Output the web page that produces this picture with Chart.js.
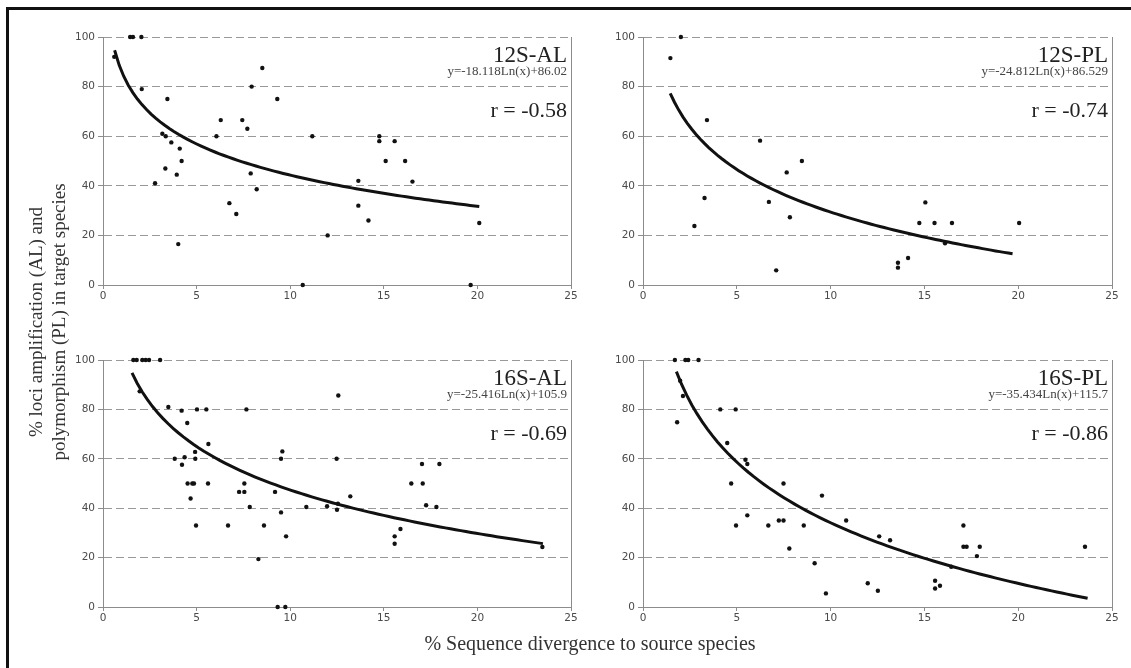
<!DOCTYPE html>
<html>
<head>
<meta charset="utf-8">
<script src="https://cdn.jsdelivr.net/npm/chart.js@4.4.1/dist/chart.umd.min.js"></script>
<style>
  body { margin: 0; background: #fff; }
  #page { position: relative; width: 1131px; height: 668px; overflow: hidden; background: #fff; }
  #frame { position: absolute; left: 6px; top: 7px; width: 1200px; height: 700px;
           border-left: 3px solid #111; border-top: 3px solid #111; }
  canvas { position: absolute; }
  .ytitle { position: absolute; left: 47px; top: 322px; width: 420px; margin-left: -210px;
            transform: translateY(-50%) rotate(-90deg); text-align: center;
            font: 19px "Liberation Serif", serif; line-height: 23px; color: #333; }
  .xtitle { position: absolute; left: 590px; top: 632px; transform: translateX(-50%);
            white-space: nowrap; font: 20px "Liberation Serif", serif; color: #333; }
</style>
</head>
<body>
<div id="page">
  <div id="frame"></div>
  <canvas id="c1"></canvas>
  <canvas id="c2"></canvas>
  <canvas id="c3"></canvas>
  <canvas id="c4"></canvas>
  <div class="ytitle">% loci amplification (AL) and<br>polymorphism (PL) in target species</div>
  <div class="xtitle">% Sequence divergence to source species</div>
</div>
<script>
// data

// 12S-AL
const al12_x = [0.6, 1.45, 1.6, 2.05, 2.07, 2.78, 3.17, 3.35, 3.33, 3.44,
    3.65, 3.94, 4.1, 4.2, 4.02, 6.06, 6.29, 6.75, 7.12, 7.44,
    7.71, 7.89, 7.94, 8.21, 8.51, 9.31, 10.67, 11.18, 12.0, 13.64,
    13.64, 14.18, 14.76, 14.76, 15.1, 15.58, 16.14, 16.53, 19.64, 20.1]
const al12_y = [92, 100, 100, 100, 79, 41, 61, 60, 47, 75,
    57.5, 44.5, 55, 50, 16.5, 60, 66.5, 33, 28.6, 66.5,
    63, 45, 80, 38.6, 87.5, 75, 0, 60, 20, 42,
    32, 26, 60, 58, 50, 58, 50, 41.7, 0, 25]

// 12S-PL
const pl12_x = [1.46, 2.02, 2.74, 3.28, 3.41, 6.24, 6.71, 7.1, 7.66, 7.83,
    8.47, 13.59, 13.59, 14.13, 14.73, 15.05, 15.54, 16.1, 16.47, 20.05]
const pl12_y = [91.5, 100, 23.8, 35.1, 66.5, 58.2, 33.5, 5.9, 45.4, 27.3,
    50, 9, 7, 10.9, 25, 33.3, 25, 16.8, 25, 25]

// 16S-AL
const al16_x = [1.62, 1.8, 2.1, 2.28, 2.46, 3.05, 1.96, 3.49, 4.2, 3.83,
    4.22, 4.36, 4.5, 4.52, 4.68, 4.77, 4.86, 4.92, 4.93, 5.02,
    4.97, 5.52, 5.61, 5.63, 6.68, 7.27, 7.55, 7.55, 7.66, 7.84,
    8.3, 8.6, 9.19, 9.33, 9.51, 9.58, 9.51, 9.74, 9.78, 10.86,
    11.97, 12.48, 12.57, 12.5, 12.55, 13.21, 15.58, 15.58, 15.89, 16.47,
    17.04, 17.08, 17.26, 17.81, 17.97, 23.47]
const al16_y = [100, 100, 100, 100, 100, 100, 87.3, 81, 79.5, 60,
    57.6, 60.6, 74.5, 50, 43.9, 50, 50, 62.8, 60, 80,
    33, 80, 50, 66, 33, 46.6, 46.6, 50, 80, 40.5,
    19.4, 33, 46.6, 0, 60, 63, 38.3, 0, 28.6, 40.5,
    40.8, 60, 85.6, 39.4, 41.8, 44.8, 28.6, 25.6, 31.6, 50,
    57.9, 50, 41.2, 40.5, 57.9, 24.3]

// 16S-PL
const pl16_x = [1.7, 2.26, 2.41, 2.96, 1.82, 1.98, 2.13, 4.12, 4.94, 4.49,
    4.7, 4.96, 5.46, 5.56, 5.56, 6.68, 7.24, 7.49, 7.49, 7.8,
    8.57, 9.15, 9.54, 9.75, 10.83, 11.98, 12.52, 12.59, 13.17, 15.57,
    15.57, 15.83, 16.43, 17.08, 17.08, 17.25, 17.8, 17.95, 23.56]
const pl16_y = [100, 100, 100, 100, 74.8, 91.6, 85.4, 80, 80, 66.4,
    50, 33, 59.6, 57.9, 37.1, 33, 35, 35, 50, 23.7,
    33, 17.7, 45.1, 5.5, 35, 9.6, 6.6, 28.6, 27, 10.6,
    7.5, 8.6, 16.3, 33, 24.4, 24.4, 20.6, 24.4, 24.4]

// panel texts and the printed log trendlines
const panel_names = ['12S-AL', '12S-PL', '16S-AL', '16S-PL']
const equations = ['y=-18.118Ln(x)+86.02', 'y=-24.812Ln(x)+86.529', 'y=-25.416Ln(x)+105.9', 'y=-35.434Ln(x)+115.7']
const r_values = ['r = -0.58', 'r = -0.74', 'r = -0.69', 'r = -0.86']
const trend_a = [-18.118, -24.812, -25.416, -35.434]
const trend_b = [86.02, 86.529, 105.9, 115.7]
const trend_from = [0.62, 1.45, 1.55, 1.78]
const trend_to = [20.1, 19.7, 23.5, 23.7]

const x_ticks = [0, 5, 10, 15, 20, 25]
const y_ticks = [0, 20, 40, 60, 80, 100]

const all_x = [al12_x, pl12_x, al16_x, pl16_x]
const all_y = [al12_y, pl12_y, al16_y, pl16_y]

// plot areas [left, top, right, bottom]
const areas = [[103, 37, 571, 285], [643, 37, 1112, 285], [103, 360, 571, 607], [643, 360, 1112, 607]]
const YW = 45, XH = 30, PAD = 10

function trendPoints(i) {
    const pts = []
    const n = 80
    for (let k = 0; k <= n; k++) {
        const x = trend_from[i] + (trend_to[i] - trend_from[i]) * k / n
        pts.push({x: x, y: trend_a[i] * Math.log(x) + trend_b[i]})
    }
    return pts
}

const panelText = {
    id: 'panelText',
    afterDraw(chart) {
        const i = chart.options.plugins.panelText.index
        const ctx = chart.ctx
        const a = chart.chartArea
        ctx.save()
        // right border
        ctx.strokeStyle = '#8c8c8c'
        ctx.lineWidth = 1
        ctx.beginPath()
        ctx.moveTo(a.right + 0.5, a.top)
        ctx.lineTo(a.right + 0.5, a.bottom)
        ctx.stroke()

        ctx.textAlign = 'right'
        ctx.textBaseline = 'alphabetic'
        ctx.fillStyle = '#222'
        ctx.font = '23px "Liberation Serif"'
        ctx.fillText(panel_names[i], a.right - 4, a.top + 25)
        ctx.fillStyle = '#444'
        ctx.font = '13px "Liberation Serif"'
        ctx.fillText(equations[i], a.right - 4, a.top + 38)
        ctx.fillStyle = '#222'
        ctx.font = '22px "Liberation Serif"'
        ctx.fillText(r_values[i], a.right - 4, a.top + 80)
        ctx.restore()
    }
}

for (let i = 0; i < 4; i++) {
    const [L, T, R, B] = areas[i]
    const cv = document.getElementById('c' + (i + 1))
    const w = R - L + YW + PAD
    const h = B - T + PAD + XH
    cv.style.left = (L - YW) + 'px'
    cv.style.top = (T - PAD) + 'px'
    cv.style.width = w + 'px'
    cv.style.height = h + 'px'
    cv.width = w
    cv.height = h

    const pts = all_x[i].map((x, k) => ({x: x, y: all_y[i][k]}))

    new Chart(cv, {
        type: 'scatter',
        data: {
            datasets: [{
                data: pts,
                backgroundColor: '#111',
                borderWidth: 0,
                pointRadius: 2.2,
                clip: 6,
                order: 2
            }, {
                type: 'line',
                data: trendPoints(i),
                borderColor: '#111',
                borderWidth: 3,
                pointRadius: 0,
                tension: 0,
                fill: false,
                clip: 6,
                order: 1
            }]
        },
        options: {
            responsive: false,
            animation: false,
            layout: {padding: {top: PAD, right: PAD, left: 0, bottom: 0}},
            plugins: {
                legend: {display: false},
                tooltip: {enabled: false},
                panelText: {index: i}
            },
            scales: {
                x: {
                    type: 'linear',
                    min: 0,
                    max: 25,
                    afterBuildTicks: s => { s.ticks = x_ticks.map(v => ({value: v})) },
                    afterFit: s => { s.height = XH },
                    grid: {drawOnChartArea: false, tickLength: 4, color: '#8c8c8c'},
                    border: {color: '#8c8c8c'},
                    ticks: {font: {family: 'DejaVu Sans', size: 10.5}, color: '#4a4a4a', padding: 1, maxRotation: 0}
                },
                y: {
                    min: 0,
                    max: 100,
                    afterBuildTicks: s => { s.ticks = y_ticks.map(v => ({value: v})) },
                    afterFit: s => { s.width = YW },
                    grid: {color: '#999', tickLength: 5, tickColor: '#8c8c8c'},
                    border: {color: '#8c8c8c', dash: [8, 4]},
                    ticks: {font: {family: 'DejaVu Sans', size: 10.5}, color: '#4a4a4a', padding: 3}
                }
            }
        },
        plugins: [panelText]
    })
}
</script>
</body>
</html>
